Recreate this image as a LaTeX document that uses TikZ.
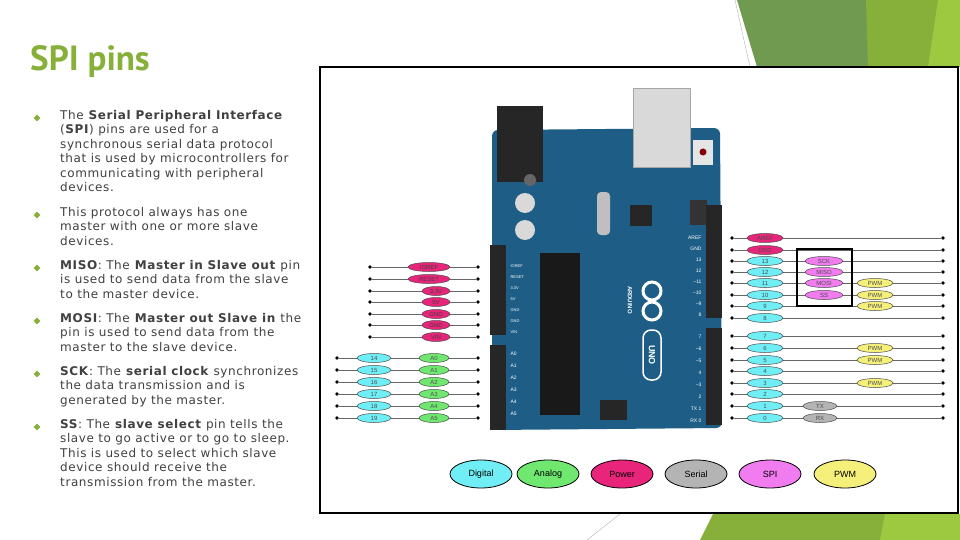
\documentclass[tikz,border=0pt]{standalone}
\usepackage{fontspec}
\setmainfont{DejaVu Sans}[LetterSpace=5]
\newfontfamily\titlefont{PT Sans}
\setsansfont{Liberation Sans}
\usetikzlibrary{shapes.geometric}
\definecolor{txt}{HTML}{404040}
\definecolor{gA}{HTML}{6F9A50}
\definecolor{gB}{HTML}{86B03A}
\definecolor{gC}{HTML}{9CC93F}
\definecolor{cDig}{HTML}{6FEEF5}
\definecolor{cAna}{HTML}{70E870}
\definecolor{cPow}{HTML}{E8257A}
\definecolor{cSer}{HTML}{B4B4B4}
\definecolor{cSpi}{HTML}{F07CF0}
\definecolor{cPwm}{HTML}{F5F07A}
\definecolor{board}{HTML}{1E5E86}
\tikzset{
  pin/.style={ellipse,draw=black!70,line width=0.5pt,inner sep=0pt,minimum height=9pt,minimum width=30pt,font=\sffamily\fontsize{6}{6}\selectfont,text=black!70},
  leg/.style={ellipse,draw=black,line width=0.8pt,inner sep=0pt,minimum height=28pt,minimum width=62pt,font=\sffamily\fontsize{9}{9}\selectfont},
  wire/.style={draw=black!60,line width=0.6pt},
  dot/.style={diamond,fill=black,inner sep=0pt,minimum size=4pt},
  bul/.style={anchor=north west,align=left,text=txt,font=\fontsize{12}{14.5}\selectfont,inner sep=0pt},
  bmark/.style={diamond,fill=gB,inner sep=0pt,minimum size=7pt},
  hdr/.style={fill=black!85}
}
\begin{document}
\begin{tikzpicture}[x=1pt,y=-1pt]
\useasboundingbox (0,0) rectangle (960,540);
\fill[white] (0,0) rectangle (960,540);
% green decoration
\fill[gA] (737,0) -- (868,0) -- (870,67) -- (757,67) -- cycle;
\fill[gB] (866,0) -- (940,0) -- (930,67) -- (868,67) -- cycle;
\fill[gC] (938,0) -- (960,0) -- (960,67) -- (928,67) -- cycle;
\draw[black!30,line width=0.4pt] (735,0) -- (750,67);
\fill[gB] (700,540) -- (713,514) -- (960,514) -- (960,540) -- cycle;
\fill[gC] (880,540) -- (885,514) -- (960,514) -- (960,540) -- cycle;
\draw[black!30,line width=0.4pt] (587,540) -- (620,514);
% title
\node[anchor=west,text=gB,font=\titlefont\fontsize{35}{35}\selectfont\bfseries,inner sep=0pt] (title) at (30,62) {SPI pins};
% bullets
\foreach \y in {118,215,268,321,374,427} \node[bmark] at (37,\y) {};
\node[bul] (b1) at (60,110) {The \textbf{Serial Peripheral Interface}\\(\textbf{SPI}) pins are used for a\\synchronous serial data protocol\\that is used by microcontrollers for\\communicating with peripheral\\devices.};
\node[bul] (b2) at (60,207) {This protocol always has one\\master with one or more slave\\devices.};
\node[bul] (b3) at (60,260) {\textbf{MISO}: The \textbf{Master in Slave out} pin\\is used to send data from the slave\\to the master device.};
\node[bul] (b4) at (60,313) {\textbf{MOSI}: The \textbf{Master out Slave in} the\\pin is used to send data from the\\master to the slave device.};
\node[bul] (b5) at (60,366) {\textbf{SCK}: The \textbf{serial clock} synchronizes\\the data transmission and is\\generated by the master.};
\node[bul] (b6) at (60,419) {\textbf{SS}: The \textbf{slave select} pin tells the\\slave to go active or to go to sleep.\\This is used to select which slave\\device should receive the\\transmission from the master.};
% frame
\draw[black,line width=1.8pt] (320,67) rectangle (958,513);
% board
\fill[board,rounded corners=6pt] (492,130) -- (720,128) -- (722,428) -- (492,430) -- cycle;
\fill[black!85] (497,106) rectangle (543,182);
\fill[black!60] (530,180) circle (6pt);
\fill[black!15] (633,88) rectangle (690,167);
\draw[black!35] (633,88) rectangle (690,167);
\fill[black!10] (693,140) rectangle (713,165);
\fill[red!50!black] (703,152) circle (3.5pt);
\fill[black!15] (525,203) circle (10pt); \fill[black!15] (525,230) circle (10pt);
\fill[black!25,rounded corners=4pt] (597,192) rectangle (610,235);
\fill[black!85] (630,205) rectangle (652,226);
\fill[black!90] (540,253) rectangle (580,415);
\fill[black!85] (600,400) rectangle (627,420);
\fill[black!80] (690,200) rectangle (707,225);
\fill[hdr] (490,245) rectangle (506,335);
\fill[hdr] (490,345) rectangle (506,430);
\fill[hdr] (706,205) rectangle (722,318);
\fill[hdr] (706,328) rectangle (722,425);
% logo
\draw[white,line width=3pt] (652,291) circle (9pt) (652,311) circle (9pt);
\draw[white,line width=1.5pt,rounded corners=8pt] (643,330) rectangle (661,380);
\node[white,rotate=-90,font=\sffamily\bfseries\fontsize{9}{9}\selectfont] (uno) at (652,355) {UNO};
\node[white,rotate=-90,font=\sffamily\bfseries\fontsize{6}{6}\selectfont] (ard) at (630,300) {ARDUINO};
\foreach \t [count=\i] in {IOREF,RESET,3.3V,5V,GND,GND,VIN} \node[white,anchor=west,font=\sffamily\fontsize{4}{4}\selectfont] (bl\i) at (507,255+\i*11) {\t};
\foreach \t [count=\i] in {A0,A1,A2,A3,A4,A5} \node[white,anchor=west,font=\sffamily\fontsize{5}{5}\selectfont] (ba\i) at (507,342+\i*12) {\t};
\foreach \t [count=\i] in {AREF,GND,13,12,\textasciitilde11,\textasciitilde10,\textasciitilde9,8} \node[white,anchor=east,font=\sffamily\fontsize{5}{5}\selectfont] (br\i) at (705,227+\i*11) {\t};
\foreach \t [count=\i] in {7,\textasciitilde6,\textasciitilde5,4,\textasciitilde3,2,TX 1,RX 0} \node[white,anchor=east,font=\sffamily\fontsize{5}{5}\selectfont] (bs\i) at (705,325+\i*12) {\t};
% right pins
\foreach \lab/\y/\c [count=\i] in {AREF/238/cPow,GND/250/cPow,13/261/cDig,12/272/cDig,11/283/cDig,10/295/cDig,9/306/cDig,8/318/cDig,7/336/cDig,6/348/cDig,5/360/cDig,4/371/cDig,3/383/cDig,2/394/cDig,1/406/cDig,0/418/cDig}{
  \node[dot] (rl\i) at (732,\y) {};
  \node[dot] (rr\i) at (943,\y) {};
  \draw[wire] (rl\i) -- (rr\i);
  \node[pin,fill=\c,minimum width=36pt] (rp\i) at (765,\y) {\lab};
}
\foreach \lab/\y [count=\i] in {SCK/261,MISO/272,MOSI/283,SS/295} \node[pin,fill=cSpi,minimum width=38pt] (spi\i) at (824,\y) {\lab};
\draw[black,line width=1.8pt] (797,249) rectangle (852,306);
\foreach \y [count=\i] in {283,295,306,348,360,383} \node[pin,fill=cPwm,minimum width=36pt] (pwm\i) at (875,\y) {PWM};
\node[pin,fill=cSer,minimum width=34pt] (tx) at (820,406) {TX};
\node[pin,fill=cSer,minimum width=34pt] (rx) at (820,418) {RX};
% left power pins
\foreach \lab/\y/\w [count=\i] in {IOREF/267/42,RESET/279/42,3.3V/291/28,5V/302/28,GND/314/28,GND/325/28,VIN/337/28}{
  \node[dot] (pl\i) at (370,\y) {};
  \node[dot] (pr\i) at (478,\y) {};
  \draw[wire] (pl\i) -- (pr\i);
  \node[pin,fill=cPow,minimum width=\w pt,text=black!75] (pp\i) at ({450-\w/2},\y) {\lab};
}
% left analog pins
\foreach \d/\a/\y [count=\i] in {14/A0/358,15/A1/370,16/A2/382,17/A3/394,18/A4/406,19/A5/418}{
  \node[dot] (al\i) at (337,\y) {};
  \node[dot] (ar\i) at (478,\y) {};
  \draw[wire] (al\i) -- (ar\i);
  \node[pin,fill=cDig,minimum width=34pt] (ad\i) at (374,\y) {\d};
  \node[pin,fill=cAna,minimum width=30pt] (aa\i) at (434,\y) {\a};
}
% legend
\foreach \lab/\x/\c in {Digital/481/cDig,Analog/548/cAna,Power/622/cPow,Serial/696/cSer,SPI/770/cSpi,PWM/845/cPwm}
  \node[leg,fill=\c] (leg\lab) at (\x,474) {\lab};
\end{tikzpicture}
\end{document}
